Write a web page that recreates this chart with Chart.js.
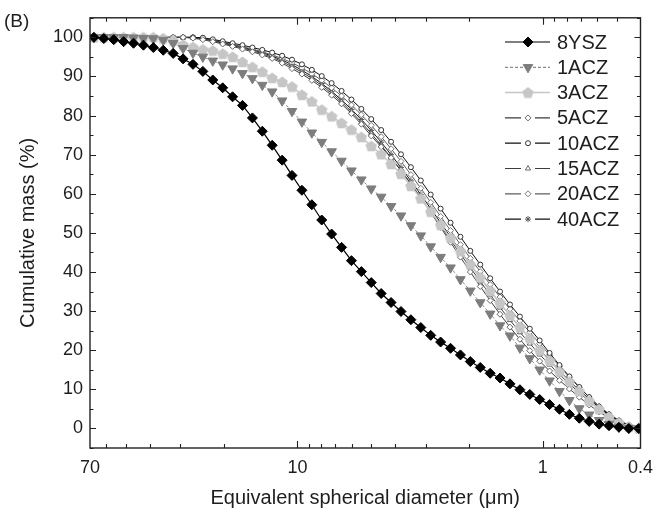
<!DOCTYPE html>
<html>
<head>
<meta charset="utf-8">
<script src="https://cdn.jsdelivr.net/npm/chart.js@4"></script>
<style>
  html, body { margin: 0; padding: 0; background: #fff; }
  #wrap { width: 662px; height: 514px; }
</style>
</head>
<body>
<div id="wrap"><canvas id="psdChart" width="662" height="514"></canvas></div>
<script>
// Cumulative mass vs equivalent spherical diameter (panel B)

// diameters (um)
const diameters = [67.48, 61.49, 56.03, 51.06, 46.53, 42.40, 38.64, 35.21, 32.08, 29.23,
  26.64, 24.28, 22.12, 20.16, 18.37, 16.74, 15.25, 13.90, 12.67, 11.54,
  10.52, 9.585, 8.734, 7.959, 7.253, 6.609, 6.022, 5.488, 5.001, 4.557,
  4.152, 3.784, 3.448, 3.142, 2.863, 2.609, 2.377, 2.166, 1.974, 1.799,
  1.639, 1.494, 1.361, 1.240, 1.130, 1.030, 0.9386, 0.8553, 0.7794, 0.7102,
  0.6472, 0.5897, 0.5374, 0.4897, 0.4462, 0.4066];

const ysz8 = [100, 99.7, 99.4, 98.9, 98.5, 98.0, 97.4, 96.7, 95.9, 94.5,
  93.1, 91.3, 89.1, 87.1, 84.8, 82.6, 79.4, 76.0, 72.4, 68.6,
  64.7, 60.9, 57.2, 53.3, 49.7, 46.3, 42.9, 40.1, 37.3, 34.5,
  32.2, 29.9, 27.8, 25.8, 23.8, 22.1, 20.5, 18.8, 17.1, 15.6,
  14.1, 12.9, 11.4, 9.9, 8.7, 7.4, 6.1, 4.9, 3.6, 2.6,
  1.8, 1.1, 0.7, 0.3, 0, 0];

const acz1 = [100, 100, 100, 100, 99.9, 99.8, 99.7, 99.3, 98.5, 97.2,
  96.0, 95.0, 94.0, 93.0, 92.0, 90.8, 89.5, 87.8, 86.1, 83.8,
  81.1, 78.4, 75.6, 73.2, 70.8, 68.4, 65.9, 63.6, 61.3, 59.2,
  56.8, 54.4, 51.9, 49.3, 46.5, 43.8, 41.1, 38.1, 35.2, 32.2,
  29.3, 26.3, 23.7, 20.6, 17.9, 15.0, 12.2, 9.5, 7.2, 5.1,
  3.5, 2.1, 1.1, 0.4, 0.1, 0];

const acz3 = [100, 100, 100, 100, 100, 100, 100, 99.7, 99.2, 98.1,
  97.5, 96.9, 96.6, 95.8, 95.0, 93.7, 92.4, 91.2, 89.6, 88.6,
  87.4, 85.3, 83.6, 81.5, 79.8, 78.1, 76.4, 74.5, 72.2, 70.1,
  67.6, 65.1, 62.0, 58.8, 55.4, 52.0, 48.7, 45.3, 41.9, 38.6,
  35.2, 32.1, 28.9, 25.9, 23.0, 20.0, 17.3, 14.6, 12.0, 9.5,
  7.0, 4.9, 2.9, 1.5, 0.4, 0];

const acz5 = [100, 100, 100, 100, 100, 100, 100, 100, 100, 100,
  99.8, 99.4, 98.9, 98.3, 97.7, 97.0, 96.3, 95.5, 94.6, 93.4,
  92.0, 90.6, 89.0, 87.2, 85.2, 83.0, 80.5, 77.8, 74.8, 72.0,
  69.2, 66.0, 62.6, 59.0, 55.2, 51.4, 47.6, 43.8, 40.0, 36.3,
  32.7, 29.2, 25.9, 22.8, 19.9, 17.2, 14.7, 12.3, 10.1, 8.0,
  6.0, 4.2, 2.7, 1.4, 0.5, 0];

const acz10 = [100, 100, 100, 100, 100, 100, 100, 100, 100, 100,
  100, 99.9, 99.5, 99.0, 98.5, 98.0, 97.4, 96.8, 96.1, 95.3,
  94.3, 93.1, 91.7, 90.1, 88.3, 86.3, 84.1, 81.7, 79.1, 76.3,
  73.3, 70.1, 66.8, 63.4, 59.8, 56.2, 52.6, 49.0, 45.4, 41.9,
  38.4, 35.0, 31.7, 28.6, 25.5, 22.5, 19.3, 16.2, 13.3, 10.6,
  8.0, 5.6, 3.6, 2.0, 0.8, 0];

const acz15 = [100, 100, 100, 100, 100, 100, 100, 100, 100, 100,
  99.9, 99.6, 99.1, 98.5, 97.9, 97.3, 96.6, 95.8, 94.9, 93.8,
  92.5, 91.1, 89.5, 87.7, 85.7, 83.5, 81.0, 78.3, 75.4, 72.4,
  69.2, 65.9, 62.5, 59.0, 55.4, 51.8, 48.2, 44.6, 41.1, 37.6,
  34.2, 30.9, 27.7, 24.6, 21.7, 18.9, 16.3, 13.8, 11.4, 9.1,
  6.9, 4.9, 3.1, 1.7, 0.6, 0];

const acz20 = [100, 100, 100, 100, 100, 100, 100, 100, 100, 100,
  100, 99.8, 99.3, 98.8, 98.2, 97.6, 97.0, 96.3, 95.5, 94.6,
  93.5, 92.2, 90.7, 89.0, 87.1, 85.0, 82.7, 80.2, 77.5, 74.6,
  71.5, 68.3, 64.9, 61.4, 57.8, 54.2, 50.6, 47.0, 43.5, 40.1,
  36.8, 33.6, 30.5, 27.5, 24.6, 21.7, 18.8, 15.9, 13.1, 10.5,
  8.0, 5.7, 3.7, 2.1, 0.9, 0.2];

const acz40 = [100, 100, 100, 100, 100, 100, 100, 100, 100, 100,
  100, 99.7, 99.2, 98.7, 98.1, 97.5, 96.8, 96.1, 95.2, 94.2,
  93.0, 91.6, 90.0, 88.2, 86.2, 84.0, 81.6, 79.0, 76.2, 73.2,
  70.0, 66.7, 63.3, 59.8, 56.2, 52.6, 49.0, 45.4, 41.9, 38.5,
  35.2, 32.0, 28.9, 25.9, 23.0, 20.2, 17.5, 14.8, 12.2, 9.8,
  7.5, 5.3, 3.4, 1.9, 0.8, 0.1];

const seriesNames = ["8YSZ", "1ACZ", "3ACZ", "5ACZ", "10ACZ", "15ACZ", "20ACZ", "40ACZ"];

const xLabelTicks = [70, 10, 1, 0.4];
const xMajorTicks = [10, 1];
const xMinorTicks = [60, 50, 40, 30, 20, 9, 8, 7, 6, 5, 4, 3, 2, 0.9, 0.8, 0.7, 0.6, 0.5];
const yLabelTicks = [0, 10, 20, 30, 40, 50, 60, 70, 80, 90, 100];
const yMinorTicks = [-5, 5, 15, 25, 35, 45, 55, 65, 75, 85, 95, 105];

const FONT = "'Liberation Sans', Arial, sans-serif";
const TXT = "#1e1e1e";

// filled pentagon for 3ACZ (Chart.js has no pentagon style)
function makePentagon(size, color) {
  const c = document.createElement("canvas");
  c.width = c.height = size;
  const g = c.getContext("2d");
  g.fillStyle = color;
  g.beginPath();
  for (let k = 0; k < 5; k++) {
    const a = -Math.PI / 2 + k * 2 * Math.PI / 5;
    g.lineTo(size / 2 + size / 2 * Math.cos(a), size / 2 + size / 2 * Math.sin(a) + 0.5);
  }
  g.closePath();
  g.fill();
  return c;
}
const pentagon = makePentagon(12, "#c6c6c6");

function pts(vals) {
  return diameters.map((d, i) => ({ x: d, y: vals[i] }));
}

const styles = [
  { data: ysz8,  line: "#000", dash: [],     lw: 1.2, ps: "rectRot",  r: 5,   rot: 0,   bg: "#000",   bc: "#000", bw: 1, gap: 0 },
  { data: acz1,  line: "#8a8a8a", dash: [3, 2], lw: 1, ps: "triangle", r: 5.5, rot: 180, bg: "#7d7d7d", bc: "#7d7d7d", bw: 1, gap: 0 },
  { data: acz3,  line: "#c6c6c6", dash: [],   lw: 1.5, ps: pentagon,   r: 6,   rot: 0,   bg: "#c6c6c6", bc: "#c6c6c6", bw: 0, gap: 0 },
  { data: acz5,  line: "#3c3c3c", dash: [],   lw: 1,   ps: "rectRot",  r: 3,   rot: 0,   bg: "#fff",   bc: "#666", bw: 1, gap: 7 },
  { data: acz10, line: "#111",    dash: [],   lw: 1,   ps: "circle",   r: 2.5, rot: 0,   bg: "#fff",   bc: "#333", bw: 1, gap: 7 },
  { data: acz15, line: "#3c3c3c", dash: [],   lw: 1,   ps: "triangle", r: 3,   rot: 0,   bg: "#fff",   bc: "#666", bw: 1, gap: 7 },
  { data: acz20, line: "#5e5e5e", dash: [],   lw: 1,   ps: "rectRot",  r: 3,   rot: 0,   bg: "#fff",   bc: "#777", bw: 1, gap: 7 },
  { data: acz40, line: "#111",    dash: [],   lw: 1,   ps: "star",     r: 3,   rot: 0,   bg: "#fff",   bc: "#555", bw: 1, gap: 7 }
];

const datasets = styles.map((s, i) => ({
  label: seriesNames[i],
  data: pts(s.data),
  borderColor: s.line,
  borderWidth: s.lw,
  borderDash: s.dash,
  tension: 0,
  fill: false,
  pointStyle: s.ps,
  pointRadius: s.r,
  pointRotation: s.rot,
  pointBackgroundColor: s.bg,
  pointBorderColor: s.bc,
  pointBorderWidth: s.bw,
  legendGap: s.gap
}));

// frame + inward ticks on all four sides, legend and panel letter
const framePlugin = {
  id: "frame",
  afterDatasetsDraw(chart) {
    const { ctx, chartArea: a, scales } = chart;
    const x = scales.x, y = scales.y;
    ctx.save();
    ctx.strokeStyle = "#222";
    ctx.lineWidth = 1.4;
    ctx.strokeRect(a.left, a.top, a.right - a.left, a.bottom - a.top);

    ctx.lineWidth = 1.1;
    ctx.beginPath();
    const xt = (v, len) => {
      const px = Math.round(x.getPixelForValue(v)) + 0.5;
      ctx.moveTo(px, a.bottom); ctx.lineTo(px, a.bottom - len);
      ctx.moveTo(px, a.top); ctx.lineTo(px, a.top + len);
    };
    const yt = (v, len) => {
      const py = Math.round(y.getPixelForValue(v)) + 0.5;
      ctx.moveTo(a.left, py); ctx.lineTo(a.left + len, py);
      ctx.moveTo(a.right, py); ctx.lineTo(a.right - len, py);
    };
    xMajorTicks.forEach(v => xt(v, 7));
    xMinorTicks.forEach(v => xt(v, 4));
    yLabelTicks.forEach(v => yt(v, 6));
    yMinorTicks.forEach(v => yt(v, 3.5));
    ctx.stroke();
    ctx.restore();
  },
  afterDraw(chart) {
    const ctx = chart.ctx;
    const drawPoint = Chart.helpers.drawPoint;
    ctx.save();
    ctx.font = "19px " + FONT;
    ctx.textBaseline = "middle";
    ctx.fillStyle = TXT;
    ctx.fillText("(B)", 4, 22);

    ctx.font = "20px " + FONT;
    const x0 = 505, x1 = 550, xm = 528, xt = 557, y0 = 42, dy = 25.3;
    chart.data.datasets.forEach((ds, i) => {
      const yy = y0 + i * dy;
      const g = ds.legendGap;
      ctx.save();
      ctx.strokeStyle = ds.borderColor;
      ctx.lineWidth = Math.max(ds.borderWidth, 1.2);
      ctx.setLineDash(ds.borderDash || []);
      ctx.beginPath();
      ctx.moveTo(x0, yy); ctx.lineTo(xm - g, yy);
      ctx.moveTo(xm + g, yy); ctx.lineTo(x1, yy);
      ctx.stroke();
      ctx.setLineDash([]);
      ctx.fillStyle = ds.pointBackgroundColor;
      ctx.strokeStyle = ds.pointBorderColor;
      ctx.lineWidth = ds.pointBorderWidth;
      drawPoint(ctx, {
        pointStyle: ds.pointStyle,
        rotation: ds.pointRotation,
        radius: ds.pointRadius,
        borderWidth: ds.pointBorderWidth
      }, xm, yy);
      ctx.restore();
      ctx.fillStyle = TXT;
      ctx.fillText(ds.label, xt, yy + 1);
    });
    ctx.restore();
  }
};

const xLabelText = { 70: "70", 10: "10", 1: "1", 0.4: "0.4" };

new Chart(document.getElementById("psdChart").getContext("2d"), {
  type: "line",
  data: { datasets },
  options: {
    responsive: false,
    animation: false,
    layout: { padding: { top: 12, right: 20, left: 0, bottom: 0 } },
    plugins: { legend: { display: false }, tooltip: { enabled: false } },
    scales: {
      x: {
        type: "logarithmic",
        reverse: true,
        min: 0.4,
        max: 70,
        afterBuildTicks: (s) => { s.ticks = xLabelTicks.map(v => ({ value: v })); },
        afterFit: (s) => { s.height = 66; },
        grid: { display: false, drawTicks: false },
        border: { display: false },
        ticks: {
          autoSkip: false,
          maxRotation: 0,
          padding: 9,
          color: TXT,
          font: { family: FONT, size: 18 },
          callback: (v) => xLabelText[v] || ""
        },
        title: {
          display: true,
          text: "Equivalent spherical diameter (\u03bcm)",
          color: TXT,
          font: { family: FONT, size: 20 },
          padding: { top: 0, bottom: 4 }
        }
      },
      y: {
        min: -5,
        max: 105,
        afterBuildTicks: (s) => { s.ticks = yLabelTicks.map(v => ({ value: v })); },
        afterFit: (s) => { s.width = 90; },
        grid: { display: false, drawTicks: false },
        border: { display: false },
        ticks: {
          padding: 7,
          color: TXT,
          font: { family: FONT, size: 18 }
        },
        title: {
          display: true,
          text: "Cumulative mass (%)",
          color: TXT,
          font: { family: FONT, size: 20 },
          padding: { top: 16, bottom: 0 }
        }
      }
    }
  },
  plugins: [framePlugin]
});
</script>
</body>
</html>
